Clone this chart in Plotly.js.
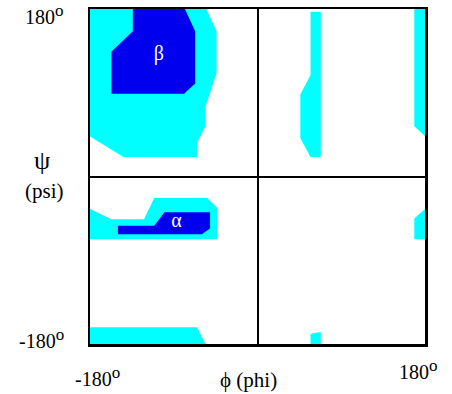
<!DOCTYPE html>
<html>
<head>
<meta charset="utf-8">
<script src="https://cdn.plot.ly/plotly-3.0.1.min.js"></script>
<style>html,body{margin:0;padding:0;background:#fff;}</style>
</head>
<body>
<div id="chart" style="width:452px;height:394px;"></div>
<script>
// Region outlines (phi, psi in degrees)
const cyanBetaPhi = [-180, -55, -44, -44, -56, -56, -65, -65, -144, -180];
const cyanBetaPsi = [180, 180, 156, 111, 75, 54, 36, 21, 21, 43];

const betaPhi = [-134, -78, -67, -67, -79, -157, -157, -134];
const betaPsi = [180, 180, 156, 100, 89, 89, 134, 156];

const cyanMidPhi = [57, 68, 68, 57, 46, 46, 57];
const cyanMidPsi = [177, 177, 21, 21, 41, 88, 109];

const cyanEdgeTopPhi = [168.5, 180, 180, 168.5];
const cyanEdgeTopPsi = [180, 180, 43.5, 54];

const cyanAlphaPhi = [-180, -157, -122, -111, -54, -43, -43, -180];
const cyanAlphaPsi = [-35, -46, -46, -23, -23, -34, -67.5, -67.5];

const alphaPhi = [-150, -111, -100, -51, -51, -60, -150];
const alphaPsi = [-53, -53, -38.5, -38.5, -56, -62, -62];

const cyanEdgeAlphaPhi = [168.5, 180, 180, 168.5];
const cyanEdgeAlphaPsi = [-45, -35, -67.5, -67.5];

const cyanBottomPhi = [-180, -65, -56, -180];
const cyanBottomPsi = [-162, -162, -180, -180];

const cyanBottomMidPhi = [57, 68, 68, 57];
const cyanBottomMidPsi = [-169, -167, -180, -180];

const regionLabels = ['β', 'α'];
const labelPhi = [-106, -87];
const labelPsi = [131, -49];

const axisMin = -180, axisMax = 180;
const tickText = ["-180<sup><span style='font-size:17px'>o</span></sup>", "180<sup><span style='font-size:17px'>o</span></sup>"];

const CYAN = '#00FFFF';
const BLUE = '#0000EE';
const FONT = '"Liberation Serif", "Times New Roman", serif';

function region(x, y, color) {
  return {x: x, y: y, type: 'scatter', mode: 'lines', fill: 'toself',
          fillcolor: color, line: {width: 0, color: color},
          hoverinfo: 'skip', showlegend: false};
}

const data = [
  region(cyanBetaPhi, cyanBetaPsi, CYAN),
  region(cyanMidPhi, cyanMidPsi, CYAN),
  region(cyanEdgeTopPhi, cyanEdgeTopPsi, CYAN),
  region(cyanAlphaPhi, cyanAlphaPsi, CYAN),
  region(cyanEdgeAlphaPhi, cyanEdgeAlphaPsi, CYAN),
  region(cyanBottomPhi, cyanBottomPsi, CYAN),
  region(cyanBottomMidPhi, cyanBottomMidPsi, CYAN),
  region(betaPhi, betaPsi, BLUE),
  region(alphaPhi, alphaPsi, BLUE),
  {x: labelPhi, y: labelPsi, text: regionLabels, type: 'scatter', mode: 'text',
   textfont: {family: FONT, size: 20, color: '#ffffff'}, hoverinfo: 'skip', showlegend: false}
];

const axisCommon = {
  range: [axisMin, axisMax], showgrid: false, showticklabels: false, ticks: '',
  zeroline: true, zerolinecolor: '#000', zerolinewidth: 2,
  showline: true, mirror: true, linecolor: '#000', linewidth: 2.5, fixedrange: true
};

const ann = (text, x, y, xanchor, size) => ({
  text: text, xref: 'paper', yref: 'paper', x: x, y: y, xanchor: xanchor, yanchor: 'middle',
  showarrow: false, font: {family: FONT, size: size, color: '#000'}
});

const layout = {
  width: 452, height: 394,
  margin: {l: 90, r: 27, t: 9, b: 50},
  paper_bgcolor: '#fff', plot_bgcolor: '#fff',
  xaxis: Object.assign({}, axisCommon),
  yaxis: Object.assign({}, axisCommon),
  annotations: [
    ann(tickText[1], -0.072, 0.985, 'right', 20),
    ann(tickText[0], -0.072, 0.015, 'right', 20),
    ann('ψ', -0.143, 0.548, 'center', 26),
    ann('(psi)', -0.137, 0.456, 'center', 21),
    ann(tickText[0], -0.05, -0.097, 'left', 20),
    ann('ϕ (phi)', 0.382, -0.108, 'left', 21),
    ann(tickText[1], 0.916, -0.077, 'left', 20)
  ]
};

Plotly.newPlot('chart', data, layout, {staticPlot: true, displayModeBar: false});
</script>
</body>
</html>
